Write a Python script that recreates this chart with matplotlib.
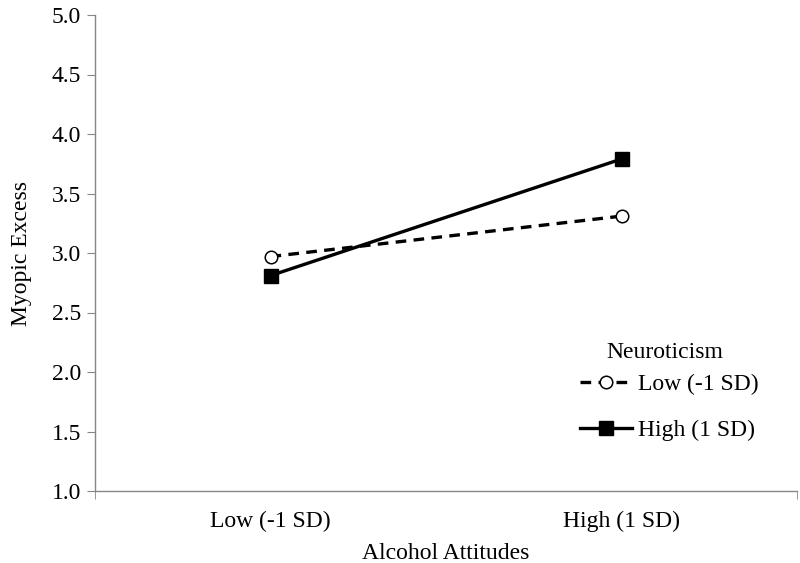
import matplotlib
matplotlib.use('Agg')
import matplotlib.pyplot as plt

# data
categories = ['Low (-1 SD)', 'High (1 SD)']
low_neuro = [2.97, 3.31]
high_neuro = [2.81, 3.79]
y_ticks = [1.0, 1.5, 2.0, 2.5, 3.0, 3.5, 4.0, 4.5, 5.0]

AXIS_GREY = '#868686'

plt.rcParams['font.family'] = ['Liberation Serif', 'DejaVu Serif']

fig = plt.figure(figsize=(8, 5.63), dpi=100)
ax = fig.add_axes([95 / 800, 1 - 491 / 563, (797 - 95) / 800, (491 - 15) / 563])

x = range(len(categories))
ax.plot(x, low_neuro, color='black', linewidth=2.4, linestyle=(0, (3.2, 2.2)),
        marker='o', markersize=9, markerfacecolor='white', markeredgecolor='black',
        markeredgewidth=1.1, label='Low (-1 SD)')
ax.plot(x, high_neuro, color='black', linewidth=2.4, linestyle='-',
        marker='s', markersize=9.5, markerfacecolor='black', markeredgecolor='black',
        label='High (1 SD)')

ax.set_xlim(-0.5, len(categories) - 0.5)
ax.set_ylim(1.0, 5.0)
ax.set_xticks(list(x))
ax.set_xticklabels(categories, fontsize=17)
ax.set_xticks([-0.5, len(categories) - 0.5], minor=True)
ax.set_yticks(y_ticks)
ax.set_yticklabels(['%.1f' % v for v in y_ticks], fontsize=17)

ax.tick_params(axis='x', which='major', length=0, pad=14)
ax.tick_params(axis='x', which='minor', length=6, color=AXIS_GREY, direction='out')
ax.tick_params(axis='y', length=6, color=AXIS_GREY, direction='out', pad=4)

for side in ['top', 'right']:
    ax.spines[side].set_visible(False)
for side in ['left', 'bottom']:
    ax.spines[side].set_color(AXIS_GREY)
    ax.spines[side].set_linewidth(1.0)

ax.set_xlabel('Alcohol Attitudes', fontsize=17, labelpad=8)
ax.set_ylabel('Myopic Excess', fontsize=17, labelpad=14)

# legend title drawn separately so the gap to the entries matches Excel's
ax.text(0.812, 0.290, 'Neuroticism', transform=ax.transAxes, fontsize=17,
        ha='center', va='center')
leg = ax.legend(loc='upper left', bbox_to_anchor=(0.691, 0.246), borderpad=0,
                borderaxespad=0, frameon=False, fontsize=17, handlelength=2.2,
                handletextpad=0.25, labelspacing=1.02)

fig.savefig('out.png', dpi=100)
